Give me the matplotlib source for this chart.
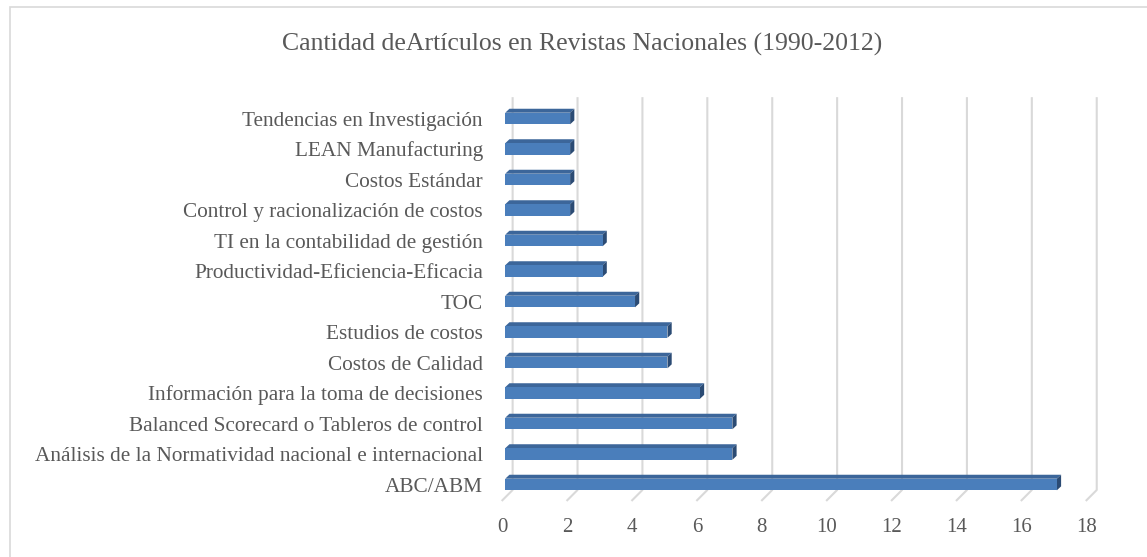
import matplotlib
matplotlib.use("Agg")
import matplotlib.pyplot as plt
from matplotlib.patches import Polygon, Rectangle
import matplotlib.transforms as mtransforms

# values, bottom to top
CATEGORIES = ["ABC/ABM",
              "Análisis de la Normatividad nacional e internacional",
              "Balanced Scorecard o Tableros de control",
              "Información para la toma de decisiones",
              "Costos de Calidad",
              "Estudios de costos",
              "TOC",
              "Productividad-Eficiencia-Eficacia",
              "TI en la contabilidad de gestión",
              "Control y racionalización de costos",
              "Costos Estándar",
              "LEAN Manufacturing",
              "Tendencias en Investigación"]
COUNTS = [17, 7, 7, 6, 5, 5, 4, 3, 3, 2, 2, 2, 2]
XTICKS = [0, 2, 4, 6, 8, 10, 12, 14, 16, 18]
TITLE = "Cantidad deArtículos en Revistas Nacionales (1990-2012)"

FRONT = "#4a7ebb"
TOP = "#3c669a"
SIDE = "#2b4b74"
GRID = "#d9d9d9"
TEXT = "#595959"

plt.rcParams["font.family"] = ["Liberation Serif", "DejaVu Serif"]

fig = plt.figure(figsize=(11.47, 5.57), dpi=100)
ax = fig.add_axes([0.4235, 0.0754, 0.5432, 0.7666])
ax.set_xlim(-0.6, 18.6)
ax.set_ylim(-1, 13)

# 3d depth of the bars, in data units
dx, dy = 0.13, 0.13
h = 0.38

# back wall grid lines with floor perspective
for v in XTICKS:
    ax.plot([v - 0.11, v + 0.228, v + 0.228], [-0.54, -0.18, 12.7],
            color=GRID, lw=1.5, zorder=1, solid_capstyle="butt")

y = list(range(len(CATEGORIES)))
ax.barh(y, COUNTS, height=h, color=FRONT, zorder=3)
for yi, v in zip(y, COUNTS):
    top = Polygon([(0, yi + h / 2), (v, yi + h / 2),
                   (v + dx, yi + h / 2 + dy), (dx, yi + h / 2 + dy)],
                  closed=True, facecolor=TOP, edgecolor="none", zorder=2)
    side = Polygon([(v, yi - h / 2), (v, yi + h / 2),
                    (v + dx, yi + h / 2 + dy), (v + dx, yi - h / 2 + dy)],
                   closed=True, facecolor=SIDE, edgecolor="none", zorder=2)
    ax.add_patch(top)
    ax.add_patch(side)

ax.set_yticks(y)
ax.set_yticklabels(CATEGORIES, fontsize=15.3, color=TEXT)
ax.set_xticks(XTICKS)
ax.set_xticklabels([str(t) for t in XTICKS], fontsize=15, color=TEXT)
ax.tick_params(axis="y", length=0, pad=2)
ax.tick_params(axis="x", length=0, pad=2)
shift = mtransforms.ScaledTranslation(-3 / 100, 0, fig.dpi_scale_trans)
for lab in ax.get_xticklabels():
    lab.set_transform(lab.get_transform() + shift)

for s in ax.spines.values():
    s.set_visible(False)

fig.text(0.5072, 0.921, TITLE, fontsize=18.5, color=TEXT, ha="center", va="center")

# chart area border
fig.patches.append(Rectangle((10 / 1147, -0.1), 1.2, 1.1 - 7 / 557,
                             transform=fig.transFigure, fill=False,
                             edgecolor=GRID, lw=1.2))

fig.savefig("out.png", dpi=100)
